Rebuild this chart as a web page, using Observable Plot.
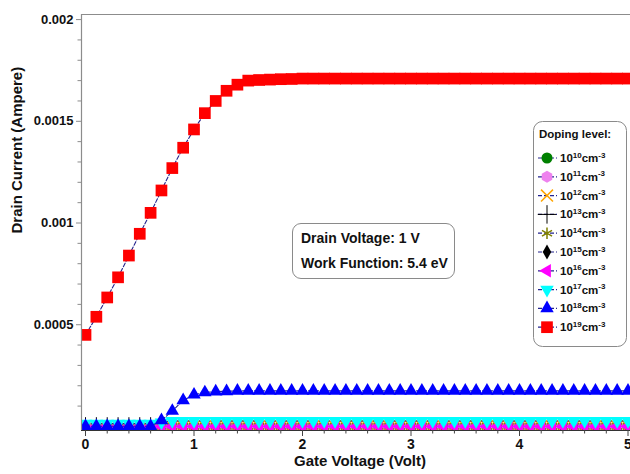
<!DOCTYPE html>
<html><head><meta charset="utf-8">
<script src="https://cdn.jsdelivr.net/npm/d3@7"></script>
<script src="https://cdn.jsdelivr.net/npm/@observablehq/plot@0.6"></script>
<style>
html,body{margin:0;padding:0;background:#fff;overflow:hidden}
#wrap{position:relative;width:630px;height:474px;font-family:"Liberation Sans",Arial,sans-serif}
#note{position:absolute;left:292px;top:223px;width:163px;height:56px;border:1px solid #8a8a8a;border-radius:9px;box-sizing:border-box;padding:2px 0 0 8px;font-weight:bold;font-size:14px;line-height:25px;color:#111;background:#fff;white-space:nowrap}
#legend{position:absolute;left:533px;top:121px}
</style></head>
<body>
<div id="wrap"><div id="chart"></div>
<div id="note">Drain Voltage: 1 V<br>Work Function: 5.4 eV</div>
<div id="legend"></div></div>
<script>
// ---------- data ----------
const gateVoltage = [0,0.1,0.2,0.3,0.4,0.5,0.6,0.7,0.8,0.9,
  1.0,1.1,1.2,1.3,1.4,1.5,1.6,1.7,1.8,1.9,
  2.0,2.1,2.2,2.3,2.4,2.5,2.6,2.7,2.8,2.9,
  3.0,3.1,3.2,3.3,3.4,3.5,3.6,3.7,3.8,3.9,
  4.0,4.1,4.2,4.3,4.4,4.5,4.6,4.7,4.8,4.9,5.0];

const dopingExponents = ["10","11","12","13","14","15","16","17","18","19"];

const current1e10 = [0,0,0,0,0,0,0,0,0,0, 0,0,0,0,0,0,0,0,0,0, 0,0,0,0,0,0,0,0,0,0, 0,0,0,0,0,0,0,0,0,0, 0,0,0,0,0,0,0,0,0,0,0];
const current1e11 = [0,0,0,0,0,0,0,0,0,0, 0,0,0,0,0,0,0,0,0,0, 0,0,0,0,0,0,0,0,0,0, 0,0,0,0,0,0,0,0,0,0, 0,0,0,0,0,0,0,0,0,0,0];
const current1e12 = [0,0,0,0,0,0,0,0,0,0, 0,0,0,0,0,0,0,0,0,0, 0,0,0,0,0,0,0,0,0,0, 0,0,0,0,0,0,0,0,0,0, 0,0,0,0,0,0,0,0,0,0,0];
const current1e13 = [0,0,0,0,0,0,0,0,0,0, 0,0,0,0,0,0,0,0,0,0, 0,0,0,0,0,0,0,0,0,0, 0,0,0,0,0,0,0,0,0,0, 0,0,0,0,0,0,0,0,0,0,0];
const current1e14 = [0,0,0,0,0,0,0,0,0,0, 0,0,0,0,0,0,0,0,0,0, 0,0,0,0,0,0,0,0,0,0, 0,0,0,0,0,0,0,0,0,0, 0,0,0,0,0,0,0,0,0,0,0];
const current1e15 = [0,0,0,0,0,0,0,0,0,0, 0,0,0,0,0,0,0,0,0,0, 0,0,0,0,0,0,0,0,0,0, 0,0,0,0,0,0,0,0,0,0, 0,0,0,0,0,0,0,0,0,0,0];
const current1e16 = [0,0,0,0,0,0,0,0,0,0, 0,0,0,0,0,0,0,0,0,0, 0,0,0,0,0,0,0,0,0,0, 0,0,0,0,0,0,0,0,0,0, 0,0,0,0,0,0,0,0,0,0,0];
const current1e17 = [0.000014,0.000014,0.000014,0.000014,0.000014,0.000014,0.000014,0.00002,0.000027,0.000027,
  0.000027,0.000027,0.000027,0.000027,0.000027,0.000027,0.000027,0.000027,0.000027,0.000027,
  0.000027,0.000027,0.000027,0.000027,0.000027,0.000027,0.000027,0.000027,0.000027,0.000027,
  0.000027,0.000027,0.000027,0.000027,0.000027,0.000027,0.000027,0.000027,0.000027,0.000027,
  0.000027,0.000027,0.000027,0.000027,0.000027,0.000027,0.000027,0.000027,0.000027,0.000027,0.000027];
const current1e18 = [0.000001,0.000001,0.000001,0.000001,0.000001,0.000001,0.000001,0.00003,0.000076,0.000128,
  0.000156,0.000167,0.000171,0.000173,0.000175,0.000175,0.000175,0.000175,0.000175,0.000175,
  0.000175,0.000175,0.000175,0.000175,0.000175,0.000175,0.000175,0.000175,0.000175,0.000175,
  0.000175,0.000175,0.000175,0.000175,0.000175,0.000175,0.000175,0.000175,0.000175,0.000175,
  0.000175,0.000175,0.000175,0.000175,0.000175,0.000175,0.000175,0.000175,0.000175,0.000175,0.000175];
const current1e19 = [0.00045,0.000539,0.000634,0.000733,0.00084,0.000947,0.00105,0.00116,0.00127,0.00137,
  0.00146,0.00154,0.0016,0.00165,0.00168,0.0017,0.001703,0.001705,0.001707,0.001708,
  0.00171,0.00171,0.00171,0.00171,0.00171,0.00171,0.00171,0.00171,0.00171,0.00171,
  0.00171,0.00171,0.00171,0.00171,0.00171,0.00171,0.00171,0.00171,0.00171,0.00171,
  0.00171,0.00171,0.00171,0.00171,0.00171,0.00171,0.00171,0.00171,0.00171,0.00171,0.00171];

const xMajorTicks = [0,1,2,3,4,5];
const xMinorTicks = [0.2,0.4,0.6,0.8,1.2,1.4,1.6,1.8,2.2,2.4,2.6,2.8,3.2,3.4,3.6,3.8,4.2,4.4,4.6,4.8];
const yMajorTicks = [0.0005,0.001,0.0015,0.002];
const yMinorTicks = [0.0001,0.0002,0.0003,0.0004,0.0006,0.0007,0.0008,0.0009,0.0011,0.0012,0.0013,0.0014,0.0016,0.0017,0.0018,0.0019];

const xTitle = "Gate Voltage (Volt)";
const yTitle = "Drain Current (Ampere)";
const legendTitle = "Doping level:";

// ---------- styles ----------
const seriesCurrents = [current1e10,current1e11,current1e12,current1e13,current1e14,current1e15,current1e16,current1e17,current1e18,current1e19];
const seriesStyles = [
  {symbol:"circle",   fill:"#008000", r:5.5},
  {symbol:"hexagon",  fill:"#ee82ee", r:5.5},
  {symbol:"times",    stroke:"#ffa500", r:5.5},
  {symbol:"plus",     stroke:"#000000", r:6, sw:1},
  {symbol:"asterisk", stroke:"#808000", r:5.5},
  {symbol:"diamond",  fill:"#000000", r:4.5},
  {symbol:"triangle", fill:"#ff00ff", r:5, rotate:-90},
  {symbol:"triangle", fill:"#00ffff", r:5, rotate:180},
  {symbol:"triangle", fill:"#0000ff", r:5, rotate:0},
  {symbol:"square",   fill:"#ff0000", r:6.6}
];
const lineColor = "#23238e";
const font = '"Liberation Sans", Arial, sans-serif';
const xDomain = [-0.037, 5.023];
const yDomain = [-0.00002, 0.002025];

const marks = [];
seriesCurrents.forEach((vals, i) => {
  const st = seriesStyles[i];
  const rows = gateVoltage.map((x, j) => ({x, y: vals[j]}));
  marks.push(Plot.line(rows, {x:"x", y:"y", stroke: lineColor, strokeWidth: 1.1, strokeDasharray: "4,2", clip: true}));
  marks.push(Plot.dot(rows, {
    x:"x", y:"y", symbol: st.symbol, r: st.r, rotate: st.rotate || 0,
    fill: st.fill || "none", stroke: st.stroke || "none", strokeWidth: st.stroke ? (st.sw || 1.5) : 0, clip: true
  }));
});

marks.push(
  Plot.ruleY([yDomain[1]], {stroke:"#8c8c8c", strokeWidth:1.2}),
  Plot.ruleX([xDomain[0]], {stroke:"#8c8c8c", strokeWidth:1.2}),
  Plot.ruleY([yDomain[0]], {stroke:"#333", strokeWidth:1.2}),
  Plot.axisY({ticks: yMajorTicks, tickSize: 5, tickPadding: 3, tickFormat: d => String(d), stroke:"#8c8c8c", fill:"#111", label: null, fontSize: 13, fontWeight: "bold"}),
  Plot.axisY({ticks: yMinorTicks, tickSize: 3.5, tickFormat: () => "", stroke:"#8c8c8c", label: null}),
  Plot.axisX({ticks: xMajorTicks, tickSize: 6, tickPadding: 3, tickFormat: d => String(d), stroke:"#444", fill:"#111", label: null, fontSize: 14, fontWeight: "bold"}),
  Plot.axisX({ticks: xMinorTicks, tickSize: 3.5, tickFormat: () => "", stroke:"#444", label: null}),
  Plot.text([yTitle], {text: d => d, frameAnchor: "left", rotate: -90, dx: -64, dy: 11, fontSize: 15, fontWeight: "bold", fill: "#111"}),
  Plot.text([xTitle], {text: d => d, frameAnchor: "bottom", dx: 4, dy: 35, fontSize: 15, fontWeight: "bold", fill: "#111"})
);

const chart = Plot.plot({
  width: 630, height: 474,
  marginLeft: 81, marginRight: 0, marginTop: 14, marginBottom: 44,
  x: {domain: xDomain, label: null},
  y: {domain: yDomain, label: null},
  style: {fontFamily: font, fontSize: "13px", fontWeight: "bold", background: "#fff", color: "#111", overflow: "visible"},
  marks
});
document.getElementById("chart").appendChild(chart);

// ---------- legend (inside plot area) ----------
const hexagon = {draw(ctx, size) {
  const r = Math.sqrt(size / (1.5 * Math.sqrt(3)));
  for (let k = 0; k < 6; k++) {
    const a = Math.PI / 6 + k * Math.PI / 3;
    const px = r * Math.cos(a), py = r * Math.sin(a);
    k ? ctx.lineTo(px, py) : ctx.moveTo(px, py);
  }
  ctx.closePath();
}};
const d3Types = {circle: d3.symbolCircle, hexagon, times: d3.symbolTimes, plus: d3.symbolPlus,
  asterisk: d3.symbolAsterisk, diamond: d3.symbolDiamond, triangle: d3.symbolTriangle, square: d3.symbolSquare};
const W = 94, H = 226;
const svg = d3.select("#legend").append("svg").attr("width", W).attr("height", H)
  .style("font-family", font).style("font-weight", "bold");
svg.append("rect").attr("x", 0.5).attr("y", 0.5).attr("width", W - 1).attr("height", H - 1)
  .attr("rx", 9).attr("fill", "#fff").attr("stroke", "#8a8a8a");
svg.append("text").attr("x", 6).attr("y", 17).attr("font-size", 11.5).attr("fill", "#111").text(legendTitle);
dopingExponents.forEach((e, i) => {
  const st = seriesStyles[i];
  const cy = 37 + i * 18.8;
  svg.append("line").attr("x1", 5).attr("x2", 24).attr("y1", cy).attr("y2", cy)
    .attr("stroke", lineColor).attr("stroke-width", 1.2).attr("stroke-dasharray", "4,2");
  const size = Math.PI * st.r * st.r;
  svg.append("path").attr("d", d3.symbol(d3Types[st.symbol], size)())
    .attr("transform", `translate(14,${cy}) rotate(${st.rotate || 0})`)
    .attr("fill", st.fill || "none").attr("stroke", st.stroke || "none").attr("stroke-width", st.stroke ? (st.sw || 1.5) : 0);
  const t = svg.append("text").attr("x", 27).attr("y", cy + 4).attr("fill", "#111").attr("font-size", 11.5);
  t.append("tspan").text("10");
  t.append("tspan").attr("dy", -4.5).attr("font-size", 8).text(e);
  t.append("tspan").attr("dy", 4.5).attr("font-size", 11.5).text("cm");
  t.append("tspan").attr("dy", -4.5).attr("font-size", 8).text("-3");
});
</script>
</body></html>
